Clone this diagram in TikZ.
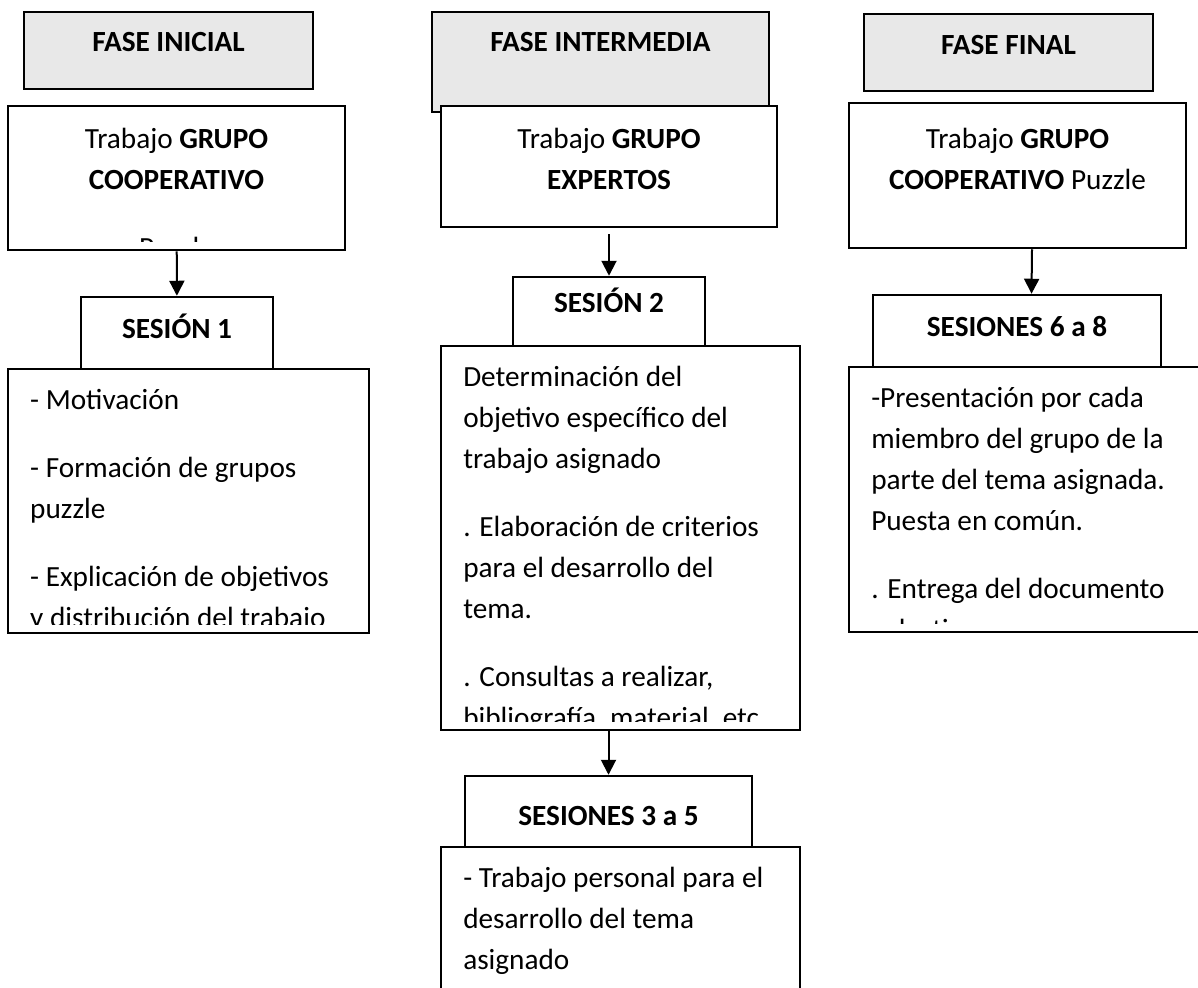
\documentclass[tikz,border=0pt]{standalone}
\usepackage{fontspec}
\setmainfont{Carlito}
\usetikzlibrary{arrows.meta,calc}
\definecolor{hdr}{HTML}{E8E8E8}
\definecolor{ink}{HTML}{000000}
\newcommand\boxfont{\fontsize{11.7}{16.4}\selectfont}

\begin{document}
\begin{tikzpicture}[
  x=0.4pt, y=-0.4pt,
  box/.style={draw=ink, line width=1pt, fill=white, inner sep=0pt},
  phase/.style={box, fill=hdr},
  inner/.style={draw=none, fill=none, inner sep=0pt, minimum width=0pt, minimum height=0pt, font=\boxfont, text=ink},
  ctext/.style 2 args={path picture={
    \clip ([yshift=3.6pt]path picture bounding box.south west) rectangle (path picture bounding box.north east);
    \node[inner, anchor=north, align=center] at ([yshift=-#1]path picture bounding box.north) {\strut#2};}},
  ltext/.style 2 args={path picture={
    \clip ([yshift=3.6pt]path picture bounding box.south west) rectangle (path picture bounding box.north east);
    \node[inner, anchor=north west, align=left] at ([xshift=8.4pt,yshift=-#1]path picture bounding box.north west) {\strut#2};}},
  flow/.style={-{Triangle[width=6pt,length=6pt]}, line width=0.8pt, draw=ink},
]
\useasboundingbox (0,0) rectangle (1198,987);
\clip (0,0) rectangle (1198,987);
\fill[white] (0,0) rectangle (1198,987);
% column 1: fase inicial
\node[phase, minimum width=115.6pt, minimum height=30.8pt, ctext={3.72pt}{\textbf{FASE INICIAL}}] (faseIni) at (168.5,50.5) {};
\node[box, minimum width=134.8pt, minimum height=57.6pt, ctext={4.92pt}{Trabajo \textbf{GRUPO}\\\textbf{COOPERATIVO}\\[10.8pt]Puzzle}] (trabIni) at (176.5,178) {};
\node[box, minimum width=76.8pt, minimum height=28.8pt, ctext={4.52pt}{\textbf{SESIÓN 1}}] (ses1) at (177,333) {};
\node[box, minimum width=144.4pt, minimum height=105.6pt, ltext={4.12pt}{- Motivación\\[10.8pt]- Formación de grupos\\puzzle\\[10.8pt]- Explicación de objetivos\\y distribución del trabajo}] (act1) at (188.5,501) {};
\draw[flow] (trabIni) -- (ses1);
% column 2: fase intermedia
\node[phase, minimum width=134.8pt, minimum height=40pt, ctext={3.72pt}{\textbf{FASE INTERMEDIA}}] (faseInt) at (600.5,62) {};
\node[box, minimum width=134.4pt, minimum height=48.4pt, ctext={4.92pt}{Trabajo \textbf{GRUPO}\\\textbf{EXPERTOS}}] (trabInt) at (609,166.5) {};
\node[box, minimum width=76.8pt, minimum height=27.6pt, ctext={2.12pt}{\textbf{SESIÓN 2}}] (ses2) at (609,311.5) {};
\node[box, minimum width=143.6pt, minimum height=153.6pt, ltext={4.12pt}{Determinación del\\objetivo específico del\\trabajo asignado\\[10.8pt]. Elaboración de criterios\\para el desarrollo del\\tema.\\[10.8pt]. Consultas a realizar,\\bibliografía, material, etc.}] (act2) at (620.5,538) {};
\node[box, minimum width=114.8pt, minimum height=28.4pt, ctext={7.72pt}{\textbf{SESIONES 3 a 5}}] (ses35) at (608.5,811.5) {};
\node[box, minimum width=143.6pt, minimum height=65.2pt, ltext={4.12pt}{- Trabajo personal para el\\desarrollo del tema\\asignado}] (act35) at (620.5,928.5) {};
\draw[flow, shorten <=2.4pt] (trabInt) -- (ses2);
\draw[flow] (act2.south -| ses35) -- (ses35);
% column 3: fase final
\node[phase, minimum width=115.6pt, minimum height=30.8pt, ctext={4.12pt}{\textbf{FASE FINAL}}] (faseFin) at (1008.5,52.5) {};
\node[box, minimum width=134.8pt, minimum height=58pt, ctext={6.12pt}{Trabajo \textbf{GRUPO}\\\textbf{COOPERATIVO} Puzzle}] (trabFin) at (1017.5,175.5) {};
\node[box, minimum width=115.2pt, minimum height=28.8pt, ctext={4.52pt}{\textbf{SESIONES 6 a 8}}] (ses68) at (1017,331) {};
\node[box, minimum width=148.4pt, minimum height=106pt, ltext={4.12pt}{-Presentación por cada\\miembro del grupo de la\\parte del tema asignada.\\Puesta en común.\\[10.8pt]. Entrega del documento\\colectivo}] (act68) at (1034.5,499.5) {};
\draw[flow] ([xshift=5.8pt]trabFin.south) -- ([xshift=5.8pt]ses68.north);
\end{tikzpicture}
\end{document}
